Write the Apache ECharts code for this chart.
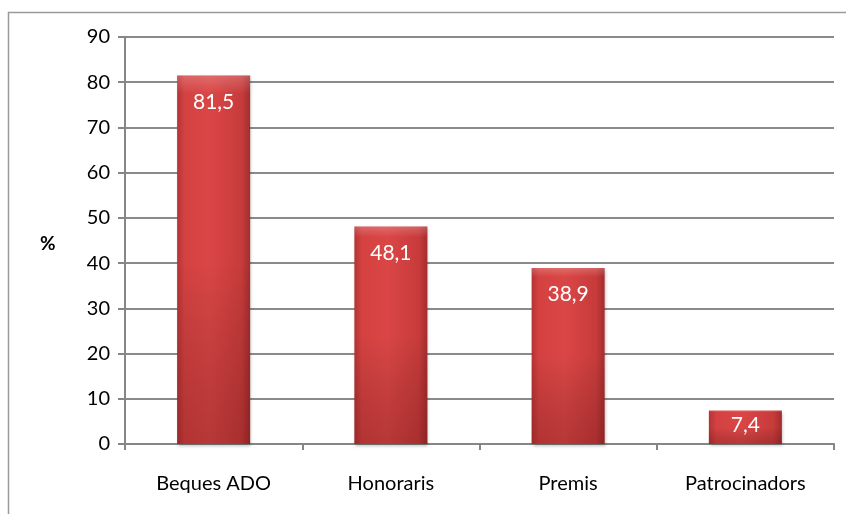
<!DOCTYPE html>
<html>
<head>
<meta charset="utf-8">
<script src="https://cdn.jsdelivr.net/npm/echarts@6/dist/echarts.min.js"></script>
<style>
  html, body { margin: 0; padding: 0; background: #fff; }
  #chart { width: 846px; height: 514px; }
</style>
</head>
<body>
<div id="chart"></div>
<script>
// Funding sources (% of respondents)
const categories = ['Beques ADO', 'Honoraris', 'Premis', 'Patrocinadors'];
const values = [81.5, 48.1, 38.9, 7.4];
const yTicks = { min: 0, max: 90, interval: 10 };

const FONT = 'Lato, "Open Sans", sans-serif';
const chart = echarts.init(document.getElementById('chart'));

const barFill = new echarts.graphic.LinearGradient(0, 0, 1, 0, [
  { offset: 0, color: '#b53333' },
  { offset: 0.1, color: '#d44141' },
  { offset: 0.45, color: '#da4646' },
  { offset: 0.88, color: '#c83b3b' },
  { offset: 1, color: '#a42d2d' }
]);

// Short bars get their value centred; taller ones near the top
const barData = values.map(v => ({
  value: v,
  label: v < 15 ? { position: 'inside', offset: [0, -2] } : {}
}));

chart.setOption({
  animation: false,
  graphic: [{
    type: 'rect',
    shape: { x: 8.5, y: 12.5, width: 846, height: 520 },
    style: { fill: 'none', stroke: '#9a9a9a', lineWidth: 1.5 },
    z: -1
  }, {
    type: 'text',
    left: 40, top: 234,
    style: { text: '%', font: 'bold 19px ' + FONT, fill: '#000' }
  }],
  grid: { left: 125, right: 12, top: 37, bottom: 70 },
  xAxis: {
    type: 'category',
    data: categories,
    axisLine: { lineStyle: { color: '#868686', width: 2 } },
    axisTick: { show: true, length: 6, lineStyle: { color: '#868686', width: 2 } },
    axisLabel: { color: '#000', fontSize: 20, fontFamily: FONT, margin: 30 }
  },
  yAxis: {
    type: 'value',
    min: yTicks.min, max: yTicks.max, interval: yTicks.interval,
    axisLine: { show: true, lineStyle: { color: '#868686', width: 2 } },
    axisTick: { show: true, length: 7, lineStyle: { color: '#868686', width: 2 } },
    axisLabel: { color: '#000', fontSize: 20, fontFamily: FONT, margin: 15 },
    splitLine: { lineStyle: { color: '#8a8a8a', width: 2 } }
  },
  series: [{
    type: 'bar',
    data: barData,
    barWidth: 73,
    z: 4,
    itemStyle: {
      color: barFill,
      shadowColor: 'rgba(0,0,0,0.25)',
      shadowBlur: 3,
      shadowOffsetX: 1,
      shadowOffsetY: 2
    },
    label: {
      show: true,
      position: 'insideTop',
      distance: 16,
      color: '#fff',
      fontSize: 21,
      fontFamily: FONT,
      formatter: p => String(p.value).replace('.', ',')
    }
  }, {
    // darker shading toward the base of each bar, bevel highlight on top
    type: 'bar',
    data: values,
    barWidth: 73,
    barGap: '-100%',
    silent: true,
    z: 5,
    label: { show: false },
    itemStyle: {
      color: new echarts.graphic.LinearGradient(0, 0, 0, 1, [
        { offset: 0, color: 'rgba(255,255,255,0.2)' },
        { offset: 0.05, color: 'rgba(255,255,255,0.0)' },
        { offset: 0.5, color: 'rgba(0,0,0,0.0)' },
        { offset: 1, color: 'rgba(60,0,0,0.22)' }
      ])
    }
  }]
});
</script>
</body>
</html>
